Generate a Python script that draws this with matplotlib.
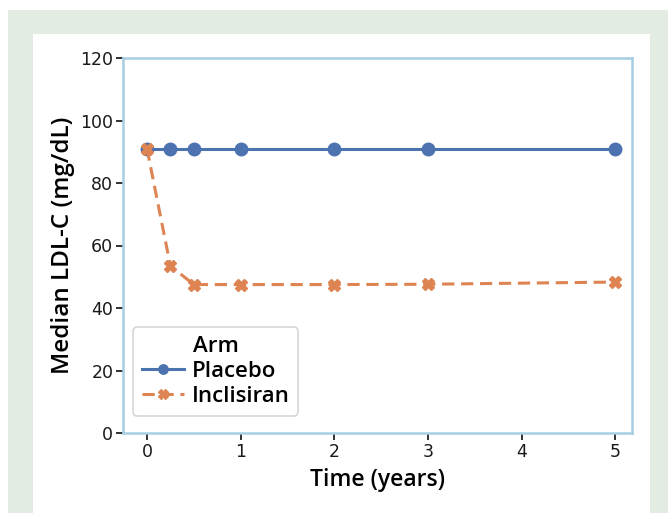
import matplotlib
matplotlib.use("Agg")
import matplotlib.pyplot as plt
from matplotlib.patches import Rectangle

time_years = [0, 0.25, 0.5, 1, 2, 3, 5]
placebo = [91, 91, 91, 91, 91, 91, 91]
inclisiran = [91, 53.5, 47.5, 47.5, 47.5, 47.6, 48.3]
arm_names = ["Placebo", "Inclisiran"]
x_ticks = [0, 1, 2, 3, 4, 5]
y_ticks = [0, 20, 40, 60, 80, 100, 120]

W, H = 668, 513
fig = plt.figure(figsize=(W / 100, H / 100), dpi=100)
fig.patch.set_facecolor("white")
green = "#e2ece2"
fig.add_artist(Rectangle((8 / W, 0), (W - 8) / W, (H - 10) / H,
                         transform=fig.transFigure, facecolor=green,
                         edgecolor="none", zorder=-10))
fig.add_artist(Rectangle((33 / W, 0), (650 - 33) / W, (H - 34) / H,
                         transform=fig.transFigure, facecolor="white",
                         edgecolor="none", zorder=-9))

ax = fig.add_axes([123 / W, (H - 433) / H, (632 - 123) / W, (433 - 58) / H])
ax.set_facecolor("white")
blue = "#4c72b0"
orange = "#dd8452"
ax.plot(time_years, placebo, color=blue, lw=2.2, marker="o", ms=9,
        label=arm_names[0], zorder=3)
ax.plot(time_years, inclisiran, color=orange, lw=2.2, ls=(0, (4, 2.2)),
        marker="X", ms=9, label=arm_names[1], zorder=4)

ax.set_xlim(-0.256, 5.18)
ax.set_ylim(0, 120)
ax.set_xticks(x_ticks)
ax.set_yticks(y_ticks)
for s in ax.spines.values():
    s.set_color("#a6cde4")
    s.set_linewidth(1.8)
ax.tick_params(axis="both", direction="out", length=5, width=1.3,
               color="#222222", labelsize=12.5, labelcolor="#1a1a1a", pad=2)
for t in ax.get_xticklabels() + ax.get_yticklabels():
    t.set_family("DejaVu Sans")

fam = ["Open Sans", "DejaVu Sans"]
ax.set_xlabel("Time (years)", family=fam, weight="semibold", size=16.5, labelpad=5)
ax.set_ylabel("Median LDL-C (mg/dL)", family=fam, weight="semibold", size=17.5, labelpad=4)

leg = ax.legend(title="Arm", loc="lower left", bbox_to_anchor=(0.006, 0.028),
                prop=dict(family=fam, weight="semibold", size=16),
                title_fontproperties=dict(family=fam, weight="semibold", size=16),
                frameon=True, fancybox=True, handlelength=1.9, handletextpad=0.35,
                borderpad=0.4, labelspacing=0.18, markerscale=0.75,
                borderaxespad=0.3)
leg.get_frame().set_edgecolor("#cccccc")
leg.get_frame().set_linewidth(1.2)

fig.savefig("out.png", dpi=100)
